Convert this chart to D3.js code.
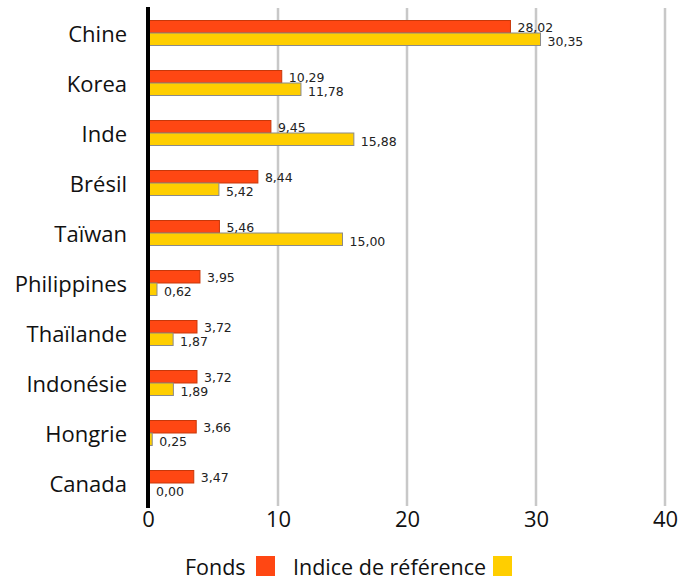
<!DOCTYPE html>
<html><head><meta charset="utf-8">
<script src="https://cdn.jsdelivr.net/npm/d3@7"></script>
<style>body{margin:0;background:#fff}svg{display:block}</style>
</head><body>
<script>
const categories = ["Chine","Korea","Inde","Brésil","Taïwan","Philippines","Thaïlande","Indonésie","Hongrie","Canada"];
const fonds = [28.02,10.29,9.45,8.44,5.46,3.95,3.72,3.72,3.66,3.47];
const indice = [30.35,11.78,15.88,5.42,15.00,0.62,1.87,1.89,0.25,0.00];
const ticks = [0,10,20,30,40];
const seriesNames = ["Fonds","Indice de référence"];

const W=695,H=581;
const font="'Open Sans', sans-serif";
const vfont="'DejaVu Sans', sans-serif";
const svg=d3.select("body").append("svg").attr("width",W).attr("height",H);
const x=d3.scaleLinear().domain([0,40]).range([149,665]);
const y=d3.scaleBand().domain(categories).range([8,508]);
const bh=12.5;
const fmt=v=>v.toFixed(2).replace(".",",");

// grid
svg.append("g").selectAll("line").data(ticks.filter(t=>t>0)).join("line")
 .attr("x1",d=>x(d)).attr("x2",d=>x(d)).attr("y1",8).attr("y2",506)
 .attr("stroke","#c8c8c8").attr("stroke-width",2.5);

const g=svg.append("g");
categories.forEach((c,i)=>{
  const cy=y(c)+y.bandwidth()/2;
  g.append("rect").attr("x",x(0)).attr("y",cy-bh).attr("width",x(fonds[i])-x(0)).attr("height",bh)
   .attr("fill","#FF4713").attr("stroke","#C8380A").attr("stroke-width",1);
  g.append("rect").attr("x",x(0)).attr("y",cy).attr("width",Math.max(0,x(indice[i])-x(0))).attr("height",bh)
   .attr("fill","#FFCE00").attr("stroke","#8a8a8a").attr("stroke-width",1);
  g.append("text").attr("x",x(fonds[i])+7).attr("y",cy-1).text(fmt(fonds[i]))
   .attr("font-family",vfont).attr("font-size",12.5).attr("fill","#222");
  g.append("text").attr("x",x(indice[i])+7).attr("y",cy+12.5).text(fmt(indice[i]))
   .attr("font-family",vfont).attr("font-size",12.5).attr("fill","#222");
  g.append("text").attr("x",127).attr("y",cy+1.5).attr("dy","0.35em").attr("text-anchor","end")
   .text(c).attr("font-family",font).attr("font-size",22).attr("fill","#111");
});

// axis line
svg.append("line").attr("x1",148).attr("x2",148).attr("y1",7).attr("y2",508)
 .attr("stroke","#000").attr("stroke-width",4);

// tick labels
const ax=d3.axisBottom(x).tickValues(ticks).tickSize(0).tickPadding(0).tickFormat(d3.format("d"));
const axg=svg.append("g").attr("transform","translate(0,511)").call(ax);
axg.select(".domain").remove();
axg.selectAll("text").attr("font-family",font).attr("font-size",22).attr("fill","#111").attr("dy","0.71em");
axg.select(".tick text").attr("dx",-1);

// legend
const lg=svg.append("g");
lg.append("text").attr("x",185).attr("y",575).text(seriesNames[0]).attr("font-family",font).attr("font-size",21.5).attr("fill","#111");
lg.append("rect").attr("x",256).attr("y",556).attr("width",19).attr("height",20).attr("fill","#FF4713");
lg.append("text").attr("x",293).attr("y",575).text(seriesNames[1]).attr("font-family",font).attr("font-size",21.5).attr("fill","#111");
lg.append("rect").attr("x",493).attr("y",556).attr("width",19).attr("height",20).attr("fill","#FFCE00");
</script>
</body></html>
